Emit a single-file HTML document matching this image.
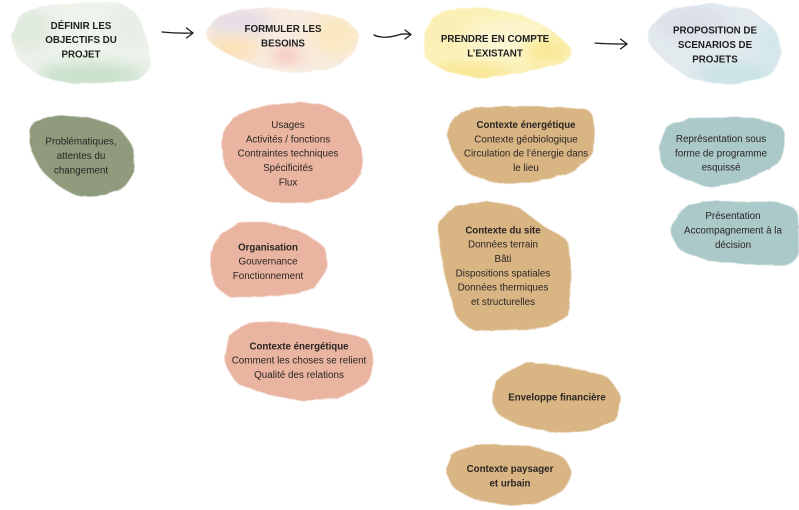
<!DOCTYPE html>
<html lang="fr">
<head>
<meta charset="utf-8">
<title>Diagramme</title>
<style>
html,body{margin:0;padding:0;background:#fff;width:799px;height:510px;overflow:hidden}
svg{display:block}
text{font-family:"Liberation Sans",Arial,sans-serif;font-size:9.85px;fill:#2a2523;text-anchor:middle}
.b{font-weight:bold;font-size:9.7px}
.h{font-weight:bold;fill:#1f1f1f;font-size:9.75px}
.a{fill:none;stroke:#1c1c1c;stroke-width:1.3;stroke-linecap:round;stroke-linejoin:round}
</style>
</head>
<body>
<svg width="799" height="510" viewBox="0 0 799 510" xmlns="http://www.w3.org/2000/svg">
<defs>
<filter id="rough" filterUnits="userSpaceOnUse" x="0" y="0" width="799" height="510">
<feGaussianBlur in="SourceGraphic" stdDeviation="4.5" result="bl"/>
<feComponentTransfer in="bl" result="th"><feFuncA type="linear" slope="7" intercept="-3"/></feComponentTransfer>
<feTurbulence type="fractalNoise" baseFrequency="0.09" numOctaves="2" seed="4" result="n"/>
<feDisplacementMap in="th" in2="n" scale="2.500"/>
</filter>
<filter id="soft" x="-40%" y="-40%" width="180%" height="180%"><feGaussianBlur stdDeviation="8"/></filter>
<mask id="m" maskUnits="userSpaceOnUse" x="0" y="0" width="799" height="100">
<g fill="#fff" stroke="#fff" stroke-width="2" stroke-linejoin="round" filter="url(#rough)">
<polygon points="20,15 45,6 85,3 120,3 137,15 148,45 150,70 135,80 100,82 70,83 40,75 20,60 11,38"/>
<polygon points="207,28 225,14 260,8 310,12 345,20 360,35 352,55 330,68 290,72 255,65 225,52 206,38"/>
<polygon points="425,30 440,12 480,8 520,15 550,30 573,50 565,62 530,70 480,78 445,70 425,58"/>
<polygon points="648,30 670,10 710,4 750,10 775,30 782,55 770,75 730,84 690,78 665,60 650,45"/>
</g>
</mask>
</defs>

<!-- En-têtes aquarelle -->
<g mask="url(#m)">
<g>
<rect x="0" y="0" width="160" height="90" fill="#eef3ec"/>
<ellipse cx="90" cy="76" rx="55" ry="13" fill="#c6dfc8" filter="url(#soft)"/>
<ellipse cx="30" cy="30" rx="22" ry="22" fill="#dfe9dc" filter="url(#soft)"/>
<ellipse cx="130" cy="25" rx="20" ry="22" fill="#e6eee6" filter="url(#soft)"/>
</g>
<g>
<rect x="200" y="0" width="165" height="80" fill="#f8ebdf"/>
<ellipse cx="240" cy="22" rx="32" ry="14" fill="#e5dce6" filter="url(#soft)"/>
<ellipse cx="232" cy="48" rx="28" ry="10" fill="#fbdfb0" filter="url(#soft)"/>
<ellipse cx="335" cy="35" rx="24" ry="20" fill="#fbe8c0" filter="url(#soft)"/>
<ellipse cx="287" cy="55" rx="14" ry="7" fill="#f6b7b0" filter="url(#soft)"/>
</g>
<g>
<rect x="420" y="0" width="160" height="85" fill="#fbf1b8"/>
<ellipse cx="445" cy="30" rx="20" ry="18" fill="#fbeeb4" filter="url(#soft)"/>
<ellipse cx="510" cy="40" rx="45" ry="18" fill="#fcf6d4" filter="url(#soft)"/>
<ellipse cx="545" cy="50" rx="22" ry="12" fill="#f9e68f" filter="url(#soft)"/>
<ellipse cx="470" cy="74" rx="42" ry="7" fill="#f8e285" filter="url(#soft)"/>
</g>
<g>
<rect x="640" y="0" width="150" height="90" fill="#e2eaee"/>
<ellipse cx="690" cy="22" rx="38" ry="16" fill="#dcdfe9" filter="url(#soft)"/>
<ellipse cx="735" cy="75" rx="40" ry="12" fill="#c5e2e4" filter="url(#soft)"/>
<ellipse cx="770" cy="45" rx="14" ry="22" fill="#d2e7ec" filter="url(#soft)"/>
</g>
</g>

<!-- Blocs -->
<g filter="url(#rough)" stroke-width="2" stroke-linejoin="round">
<g fill="#8f9b7b" stroke="#8f9b7b">
<polygon points="30,124 58,116 92,119 118,128 132,146 134,170 124,187 102,195 80,196 60,186 42,170 31,148"/>
</g>
<g fill="#e9b4a0" stroke="#e9b4a0">
<polygon points="222,138 233,118 257,108 297,103 323,105 347,118 362,152 360,175 343,192 310,202 270,202 243,188 225,167"/>
<polygon points="210,258 220,235 240,223 267,223 300,232 325,248 327,268 313,288 283,295 230,297 215,285 212,268"/>
<polygon points="225,362 230,335 250,323 283,323 333,332 368,340 373,362 368,382 340,397 300,400 267,393 237,383"/>
</g>
<g fill="#d9b584" stroke="#d9b584">
<polygon points="447,130 457,115 477,108 530,107 590,110 595,133 590,157 570,172 530,182 497,183 467,172 452,150"/>
<polygon points="438,223 453,208 487,202 517,207 543,227 567,240 570,270 568,317 540,328 473,330 457,317 445,273"/>
<polygon points="492,397 500,377 527,363 563,367 607,377 621,397 615,420 590,430 557,432 520,425 497,413"/>
<polygon points="446,470 453,453 480,445 530,447 563,457 572,473 563,490 537,503 507,505 473,498 453,487"/>
</g>
<g fill="#aac9c8" stroke="#aac9c8">
<polygon points="660,147 667,127 690,119 750,118 783,127 783,153 773,167 743,180 710,187 683,177 663,167"/>
<polygon points="670,230 683,208 707,202 777,203 797,210 798,257 787,265 743,263 710,260 680,250"/>
</g>
</g>

<!-- Flèches -->
<g class="a">
<path d="M162,32 C172,33 182,33.500 193,33"/><path d="M186.500,28 L193,33 L186.500,38"/>
<path d="M374,35 C382,39 392,37 400,34.500 C404,33.500 408,34 411,34.500"/><path d="M405,30 L411,34.500 L405,39"/>
<path d="M595,43 C605,44 616,44 627,44"/><path d="M620.500,39 L627,44 L620.500,49"/>
</g>

<g>
<!-- Titres -->
<text class="h" x="81" y="29">DÉFINIR LES</text>
<text class="h" x="81" y="43">OBJECTIFS DU</text>
<text class="h" x="81" y="57.500">PROJET</text>
<text class="h" x="283" y="32">FORMULER LES</text>
<text class="h" x="283" y="46.500">BESOINS</text>
<text class="h" x="495" y="42">PRENDRE EN COMPTE</text>
<text class="h" x="495" y="56.500">L’EXISTANT</text>
<text class="h" x="715" y="33.500">PROPOSITION DE</text>
<text class="h" x="715" y="48">SCENARIOS DE</text>
<text class="h" x="715" y="62.500">PROJETS</text>

<!-- Textes -->
<text x="81" y="144.500">Problématiques,</text>
<text x="81" y="159">attentes du</text>
<text x="81" y="173.500">changement</text>

<text x="288" y="128">Usages</text>
<text x="288" y="142.300">Activités / fonctions</text>
<text x="288" y="156.600">Contraintes techniques</text>
<text x="288" y="171">Spécificités</text>
<text x="288" y="185.300">Flux</text>

<text class="b" x="268" y="250.300">Organisation</text>
<text x="268" y="264.600">Gouvernance</text>
<text x="268" y="279">Fonctionnement</text>

<text class="b" x="299" y="349.300">Contexte énergétique</text>
<text x="299" y="363.600">Comment les choses se relient</text>
<text x="299" y="378">Qualité des relations</text>

<text class="b" x="526" y="128">Contexte énergétique</text>
<text x="526" y="142.300">Contexte géobiologique</text>
<text x="526" y="156.600">Circulation de l’énergie dans</text>
<text x="526" y="171">le lieu</text>

<text class="b" x="503" y="233.300">Contexte du site</text>
<text x="503" y="247.600">Données terrain</text>
<text x="503" y="262">Bâti</text>
<text x="503" y="276.300">Dispositions spatiales</text>
<text x="503" y="290.600">Données thermiques</text>
<text x="503" y="305">et structurelles</text>

<text class="b" x="557" y="400.300">Enveloppe financière</text>

<text class="b" x="510" y="472">Contexte paysager</text>
<text class="b" x="510" y="486.300">et urbain</text>

<text x="721" y="142">Représentation sous</text>
<text x="721" y="156.300">forme de programme</text>
<text x="721" y="170.500">esquissé</text>

<text x="733" y="219">Présentation</text>
<text x="733" y="233.500">Accompagnement à la</text>
<text x="733" y="248">décision</text>
</g>
</svg>
</body>
</html>
